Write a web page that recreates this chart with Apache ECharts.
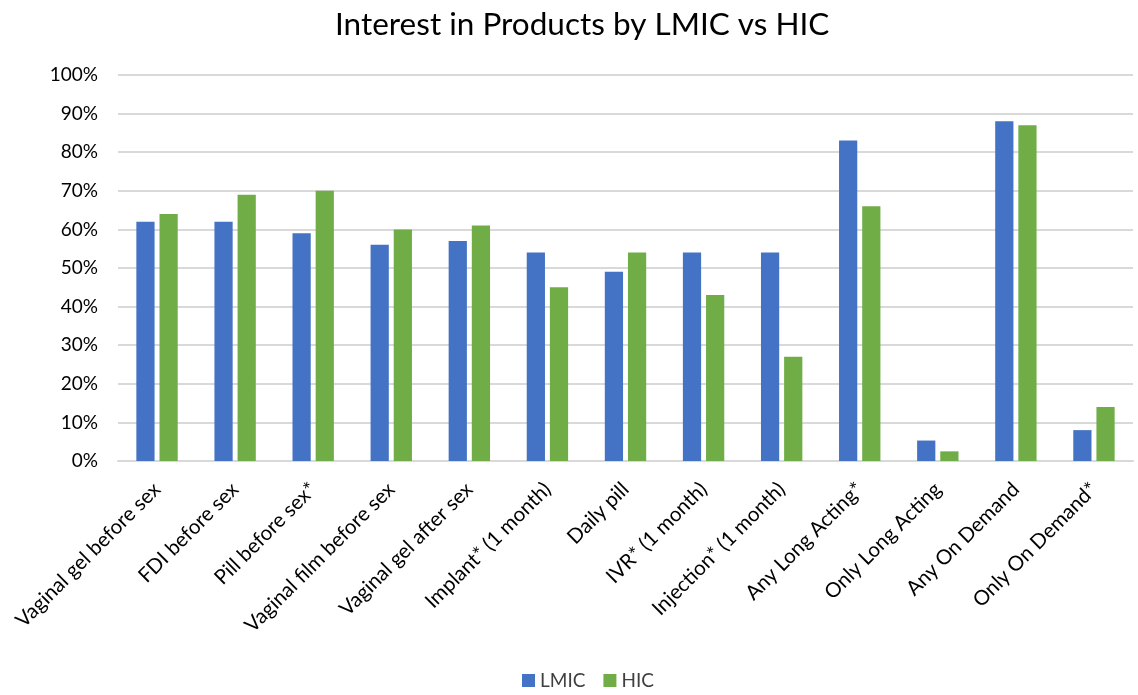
<!DOCTYPE html>
<html>
<head>
<meta charset="utf-8">
<script src="https://cdn.jsdelivr.net/npm/echarts@6/dist/echarts.min.js"></script>
<style>
  html, body { margin: 0; padding: 0; background: #fff; }
  #chart { width: 1138px; height: 695px; }
</style>
</head>
<body>
<div id="chart"></div>
<script>
  var categories = ['Vaginal gel before sex', 'FDI before sex', 'Pill before sex*', 'Vaginal film before sex',
    'Vaginal gel after sex', 'Implant* (1 month)', 'Daily pill', 'IVR* (1 month)', 'Injection* (1 month)',
    'Any Long Acting*', 'Only Long Acting', 'Any On Demand', 'Only On Demand*'];
  var lmic = [62, 62, 59, 56, 57, 54, 49, 54, 54, 83, 5.3, 88, 8];
  var hic = [64, 69, 70, 60, 61, 45, 54, 43, 27, 66, 2.5, 87, 14];

  var myChart = echarts.init(document.getElementById('chart'));
  var font = 'Lato, "Open Sans", sans-serif';
  var option = {
    animation: false,
    title: {
      text: 'Interest in Products by LMIC vs HIC',
      left: 330,
      top: 4,
      textStyle: { fontFamily: font, fontSize: 31.5, fontWeight: 'normal', color: '#000' }
    },
    legend: {
      data: ['LMIC', 'HIC'],
      bottom: 0,
      left: 517,
      itemWidth: 13,
      itemHeight: 13,
      itemGap: 18,
      icon: 'rect',
      textStyle: { fontFamily: font, fontSize: 19, color: '#404040' }
    },
    grid: { left: 118, right: 5, top: 75, bottom: 234 },
    xAxis: {
      type: 'category',
      data: categories,
      axisLine: { lineStyle: { color: '#d9d9d9', width: 2 } },
      axisTick: { show: false },
      axisLabel: { rotate: 45, interval: 0, margin: 25, fontFamily: font, fontSize: 20.5, color: '#000' }
    },
    yAxis: {
      type: 'value',
      min: 0,
      max: 100,
      interval: 10,
      axisLine: { show: false },
      axisTick: { show: false },
      axisLabel: { formatter: '{value}%', fontFamily: font, fontSize: 19, color: '#000', margin: 20 },
      splitLine: { lineStyle: { color: '#d9d9d9', width: 2 } }
    },
    series: [
      {
        name: 'LMIC', type: 'bar', data: lmic,
        barGap: '27%', barCategoryGap: '47%',
        itemStyle: { color: '#4472c4' }
      },
      {
        name: 'HIC', type: 'bar', data: hic,
        itemStyle: { color: '#70ad47' }
      }
    ]
  };
  myChart.setOption(option);
</script>
</body>
</html>
